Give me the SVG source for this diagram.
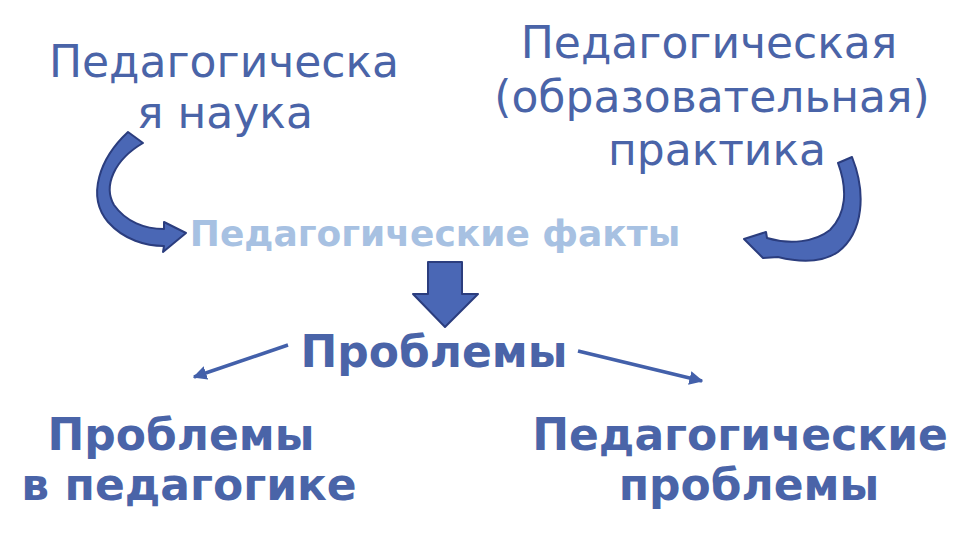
<svg xmlns="http://www.w3.org/2000/svg" width="960" height="540" viewBox="0 0 960 540">
<defs>
<style>
text{font-family:"DejaVu Sans",sans-serif;fill:#4a64a8;text-anchor:middle}
.n{font-size:44px}
.b{font-size:44px;font-weight:bold}
.f{font-size:36px;font-weight:bold;fill:#a7c1e2}
.blk{fill:#4a67b5;stroke:#2b3d7e;stroke-width:2;stroke-linejoin:round}
.ln{stroke:#4360aa;stroke-width:3.5;fill:none}
</style>
<linearGradient id="g" x1="0" y1="0" x2="1" y2="1">
<stop offset="0" stop-color="#3c58a8"/><stop offset="1" stop-color="#5a7cc6"/>
</linearGradient>
<marker id="ah" viewBox="0 0 10 10" refX="9" refY="5" markerWidth="4" markerHeight="4" orient="auto" markerUnits="strokeWidth">
<path d="M0,0 L10,5 L0,10 Z" fill="#4360aa"/>
</marker>
</defs>
<rect width="960" height="540" fill="#ffffff"/>
<g id="n1"><text class="n" x="224" y="77">Педагогическа</text><text class="n" x="225" y="128">я наука</text></g>
<g id="n2"><text class="n" x="709" y="58">Педагогическая</text><text class="n" x="712" y="112">(образовательная)</text><text class="n" x="717" y="165">практика</text></g>
<g id="n3"><text class="f" x="435" y="246">Педагогические факты</text></g>
<g id="n4"><text class="b" x="434" y="367">Проблемы</text></g>
<g id="n5"><text class="b" x="181" y="450">Проблемы</text><text class="b" x="189" y="500">в педагогике</text></g>
<g id="n6"><text class="b" x="740" y="450">Педагогические</text><text class="b" x="749" y="500">проблемы</text></g>
<g id="connectors">
<path class="blk" fill="url(#g)" d="M128,132 C100,158 86,196 108,222 C124,240 146,246 164,246 L163,252 L186,233 L164,222 L164,229 C145,229 126,222 114,205 C103,186 114,160 143,143 Z"/>
<path class="blk" fill="url(#g)" d="M838,163 L852,157 C866,192 864,232 838,252 C820,264 798,262 778,257 L763,258 L744,239 L766,232 L767,238 C790,245 815,242 830,230 C846,214 848,190 838,163 Z"/>
<path class="blk" d="M428,262 L462,262 L462,294 L478,294 L445,327 L413,294 L428,294 Z"/>
<line class="ln" x1="288" y1="345" x2="194" y2="377" marker-end="url(#ah)"/>
<line class="ln" x1="578" y1="351" x2="702" y2="381" marker-end="url(#ah)"/>
</g>
</svg>
